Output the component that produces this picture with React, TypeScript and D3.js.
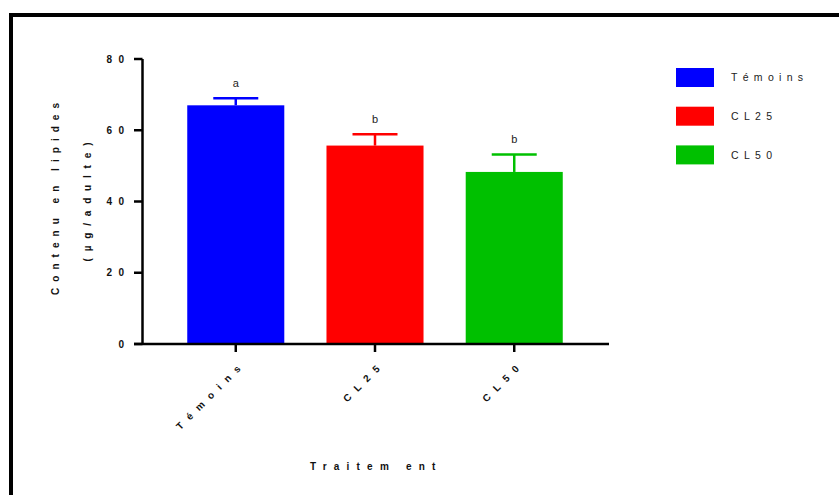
import React from "react";
import * as d3 from "d3";

const categories = ["Témoins", "CL25", "CL50"];
const means = [67.0, 55.7, 48.3];
const errors = [2.0, 3.2, 4.9];
const letters = ["a", "b", "b"];
const colors = ["#0000ff", "#ff0000", "#00c000"];
const yTicks = [0, 20, 40, 60, 80];

const W = 839;
const H = 495;

export default function App() {
  const x = d3
    .scaleBand<string>()
    .domain(categories)
    .range([142, 608])
    .paddingInner(0.303)
    .paddingOuter(0.325);
  const y = d3.scaleLinear().domain([0, 80]).range([344, 59]);
  const font = "Arial, 'Liberation Sans', Helvetica, sans-serif";
  const tickLS = 6.3;
  const xLS = 7.5;

  return (
    <svg
      width={W}
      height={H}
      style={{ position: "absolute", left: 0, top: 0, background: "#fff" }}
      fontFamily={font}
    >
      <rect x={11} y={15} width={W + 20} height={H + 20} fill="none" stroke="#000" strokeWidth={4} />

      {/* bars */}
      {categories.map((c, i) => {
        const bx = x(c)!;
        const cx = bx + x.bandwidth() / 2;
        const top = y(means[i]);
        const errTop = y(means[i] + errors[i]);
        return (
          <g key={c}>
            <line x1={cx} x2={cx} y1={top} y2={errTop} stroke={colors[i]} strokeWidth={2.5} />
            <line x1={cx - 22.5} x2={cx + 22.5} y1={errTop} y2={errTop} stroke={colors[i]} strokeWidth={2.5} />
            <rect x={bx} y={top} width={x.bandwidth()} height={y(0) - top} fill={colors[i]} />
            <text x={cx} y={errTop - 11} textAnchor="middle" fontSize={11} fill="#222">
              {letters[i]}
            </text>
          </g>
        );
      })}

      {/* y axis */}
      <line x1={142.5} x2={142.5} y1={y(80)} y2={y(0)} stroke="#000" strokeWidth={2.5} />
      {yTicks.map((t) => (
        <g key={t}>
          <line x1={134} x2={142.5} y1={y(t)} y2={y(t)} stroke="#000" strokeWidth={2.5} />
          <text
            x={124 + tickLS}
            y={y(t)}
            dy="0.35em"
            textAnchor="end"
            fontSize={10}
            fontWeight="bold"
            fill="#111"
            letterSpacing={tickLS}
          >
            {String(t)}
          </text>
        </g>
      ))}

      {/* x axis */}
      <line x1={134} x2={609} y1={y(0)} y2={y(0)} stroke="#000" strokeWidth={2.5} />
      {categories.map((c) => {
        const cx = x(c)! + x.bandwidth() / 2;
        return (
          <g key={c}>
            <line x1={cx} x2={cx} y1={y(0)} y2={y(0) + 8} stroke="#000" strokeWidth={2.5} />
            <text
              transform={`translate(${cx + 3 + xLS * 0.707},${y(0) + 23 - xLS * 0.707}) rotate(-45)`}
              textAnchor="end"
              fontSize={10}
              fontWeight="bold"
              fill="#111"
              dy="0.35em"
              letterSpacing={xLS}
            >
              {c}
            </text>
          </g>
        );
      })}

      {/* axis titles */}
      <text
        transform="translate(59,199) rotate(-90)"
        textAnchor="middle"
        fontSize={10}
        fontWeight="bold"
        fill="#111"
        textLength={192}
        lengthAdjust="spacing"
      >
        Contenu en lipides
      </text>
      <text
        transform="translate(91,202) rotate(-90)"
        textAnchor="middle"
        fontSize={10}
        fontWeight="bold"
        fill="#111"
        textLength={119}
        lengthAdjust="spacing"
      >
        (µg/adulte)
      </text>
      <text
        x={310}
        y={470}
        fontSize={10}
        fontWeight="bold"
        fill="#111"
        letterSpacing={7.2}
      >
        Traitem ent
      </text>

      {/* legend */}
      {categories.map((c, i) => (
        <g key={c}>
          <rect x={676} y={68 + i * 38.7} width={38} height={19} fill={colors[i]} />
          <text
            x={731}
            y={77.5 + i * 38.7}
            dy="0.35em"
            fontSize={10.5}
            fill="#222"
            letterSpacing={5.3}
          >
            {c}
          </text>
        </g>
      ))}
    </svg>
  );
}
